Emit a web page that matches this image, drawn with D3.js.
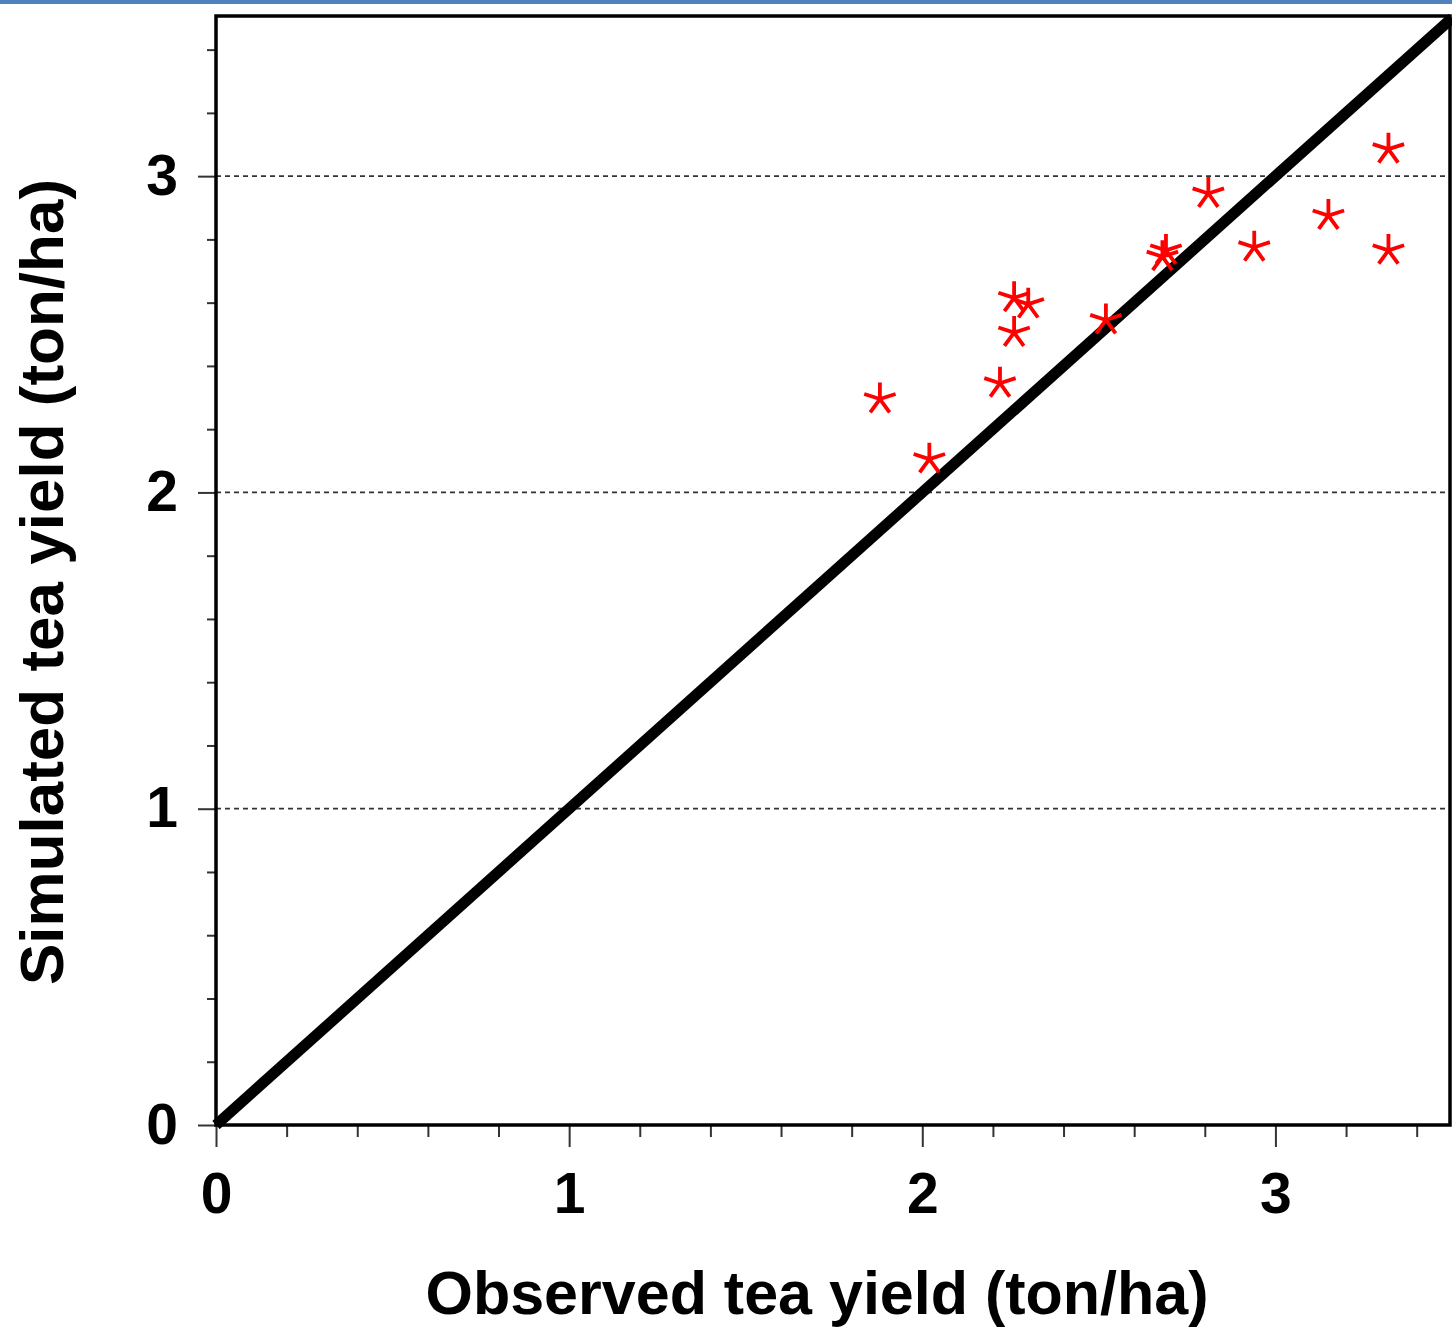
<!DOCTYPE html>
<html>
<head>
<meta charset="utf-8">
<script src="https://cdn.jsdelivr.net/npm/d3@7"></script>
<style>
  html, body { margin: 0; padding: 0; background: #fff; }
  svg { display: block; }
  text { font-family: "Liberation Sans", Arial, sans-serif; font-weight: bold; }
</style>
</head>
<body>
<svg id="chart" width="1452" height="1329"></svg>
<script>
// ---- data ----
const observed  = [1.88, 2.02, 2.22, 2.26, 2.26, 2.30, 2.52, 2.68, 2.69, 2.81, 2.94, 3.15, 3.32, 3.32];
const simulated = [2.30, 2.11, 2.35, 2.51, 2.62, 2.60, 2.55, 2.75, 2.77, 2.95, 2.78, 2.88, 3.09, 2.77];
const majorTicks = [0, 1, 2, 3];
const minorTicks = [0.2, 0.4, 0.6, 0.8, 1.2, 1.4, 1.6, 1.8, 2.2, 2.4, 2.6, 2.8, 3.2, 3.4];
const gridValues = [1, 2, 3];
const xTitle = "Observed tea yield (ton/ha)";
const yTitle = "Simulated tea yield (ton/ha)";

// ---- layout ----
const svg = d3.select("#chart");
const L = 216, R = 1450, T = 16, B = 1125;
const x = d3.scaleLinear().domain([0, 3.5]).range([L, 1452]);
const y = d3.scaleLinear().domain([0, 3.5]).range([B, T + 2]);

// top blue band
svg.append("rect").attr("x", 0).attr("y", 0).attr("width", 1452).attr("height", 4).attr("fill", "#4f81bd");

// gridlines
svg.append("g").selectAll("line").data(gridValues).join("line")
  .attr("x1", L).attr("x2", R)
  .attr("y1", d => y(d)).attr("y2", d => y(d))
  .attr("stroke", "#333").attr("stroke-width", 1.8).attr("stroke-dasharray", "5,4");

// axes
const tickStyle = g => {
  g.select(".domain").remove();
  g.selectAll(".tick line").attr("stroke", "#333").attr("stroke-width", 2);
  g.selectAll("text").attr("fill", "#000").style("font-size", "57px").style("font-family", "'Liberation Sans', Arial, sans-serif").style("font-weight", "bold");
};
svg.append("g").attr("transform", `translate(0,${B})`)
  .call(d3.axisBottom(x).tickValues(minorTicks).tickSize(12).tickFormat(""))
  .call(tickStyle);
svg.append("g").attr("transform", `translate(0,${B})`)
  .call(d3.axisBottom(x).tickValues(majorTicks).tickSize(22).tickPadding(26).tickFormat(d3.format("d")))
  .call(tickStyle);
svg.append("g").attr("transform", `translate(${L},0)`)
  .call(d3.axisLeft(y).tickValues(minorTicks).tickSize(9).tickFormat(""))
  .call(tickStyle);
svg.append("g").attr("transform", `translate(${L},0)`)
  .call(d3.axisLeft(y).tickValues(majorTicks).tickSize(18).tickPadding(20).tickFormat(d3.format("d")))
  .call(tickStyle);

// 1:1 line
svg.append("clipPath").attr("id", "clip").append("rect")
  .attr("x", L - 4).attr("y", T - 2).attr("width", R - L + 6).attr("height", B - T + 6);
svg.append("line")
  .attr("clip-path", "url(#clip)")
  .attr("x1", x(0)).attr("y1", y(0)).attr("x2", x(3.5)).attr("y2", y(3.5))
  .attr("stroke", "#000").attr("stroke-width", 11);

// frame
svg.append("rect").attr("x", L).attr("y", T).attr("width", R - L).attr("height", B - T)
  .attr("fill", "none").attr("stroke", "#000").attr("stroke-width", 3.5);

// asterisk markers
const r = 16.5;
const starPath = (() => {
  let p = "";
  for (let k = 0; k < 5; k++) {
    const a = -Math.PI / 2 + k * 2 * Math.PI / 5;
    p += `M0,0L${(r * Math.cos(a)).toFixed(2)},${(r * Math.sin(a)).toFixed(2)}`;
  }
  return p;
})();
const pts = observed.map((o, i) => ({ o, s: simulated[i] }));
svg.append("g").selectAll("path").data(pts).join("path")
  .attr("transform", d => `translate(${x(d.o)},${y(d.s) + 1.5})`)
  .attr("d", starPath)
  .attr("fill", "none").attr("stroke", "#ff0000").attr("stroke-width", 3.8);

// titles
svg.append("text").attr("x", 817).attr("y", 1314).attr("text-anchor", "middle")
  .style("font-size", "61px").attr("fill", "#000").text(xTitle);
svg.append("text").attr("transform", "translate(63,582) rotate(-90)").attr("text-anchor", "middle")
  .style("font-size", "62px").attr("fill", "#000").text(yTitle);
</script>
</body>
</html>
